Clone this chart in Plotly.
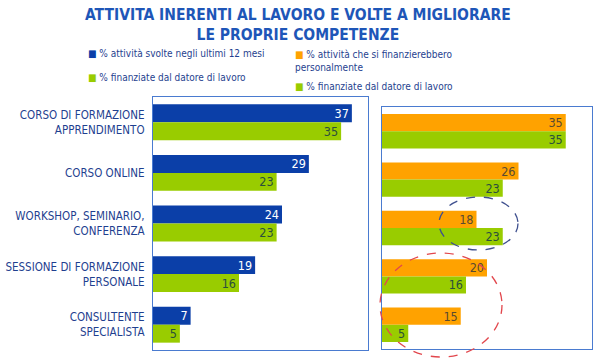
import plotly.graph_objects as go

categories = ["CORSO DI FORMAZIONE<br>APPRENDIMENTO", "CORSO ONLINE", "WORKSHOP, SEMINARIO,<br>CONFERENZA",
              "SESSIONE DI FORMAZIONE<br>PERSONALE", "CONSULTENTE<br>SPECIALISTA"]
svolte = [37, 29, 24, 19, 7]
finanziate_left = [35, 23, 23, 16, 5]
autofinanziate = [35, 26, 18, 20, 15]
finanziate_right = [35, 23, 23, 16, 5]

BLUE = "#0B3FA8"
GREEN = "#99CC00"
ORANGE = "#FFA200"
TXT = "#1F3F8F"
BORDER = "#4A7BD0"
FONT = "DejaVu Sans Condensed, Liberation Sans Narrow, Arial Narrow, Liberation Sans, sans-serif"

fig = go.Figure()

def bar(x, color, tcolor, xa, ya, name):
    return go.Bar(y=categories, x=x, orientation="h", marker=dict(color=color, line=dict(width=0)),
                  text=[str(v) for v in x], textposition="inside", insidetextanchor="end",
                  textangle=0, constraintext="none",
                  textfont=dict(color=tcolor, size=12.5, family=FONT), xaxis=xa, yaxis=ya,
                  name=name, showlegend=False, cliponaxis=False)

fig.add_trace(bar(svolte, BLUE, "white", "x", "y", "svolte"))
fig.add_trace(bar(finanziate_left, GREEN, "#2B4F3C", "x", "y", "finanziate"))
fig.add_trace(bar(autofinanziate, ORANGE, "#5A4A30", "x2", "y2", "autofinanziate"))
fig.add_trace(bar(finanziate_right, GREEN, "#2B4F3C", "x2", "y2", "finanziate2"))

axline = dict(showline=True, linecolor=BORDER, linewidth=1.3, mirror=True, showgrid=False, zeroline=False,
              automargin=False)

fig.update_layout(
    width=600, height=360, margin=dict(l=0, r=0, t=0, b=0),
    paper_bgcolor="white", plot_bgcolor="white",
    barmode="group", bargap=0.29, bargroupgap=0,
    font=dict(family=FONT, color=TXT, size=12),
    xaxis=dict(domain=[153/600, 368/600], range=[0, 40], showticklabels=False, ticks="", anchor="y", **axline),
    yaxis=dict(domain=[1-350/360, 1-97/360], autorange="reversed", anchor="x", ticks="",
               tickfont=dict(size=11.5, color=TXT, family=FONT), ticklabelstandoff=5, **axline),
    xaxis2=dict(domain=[382/600, 592/600], range=[0, 40], showticklabels=False, ticks="", anchor="y2", **axline),
    yaxis2=dict(domain=[1-349/360, 1-107/360], autorange="reversed", anchor="x2", showticklabels=False,
                ticks="", **axline),
)

# Title
fig.add_annotation(text="<b>ATTIVITA INERENTI AL LAVORO E VOLTE A MIGLIORARE<br>LE PROPRIE COMPETENZE</b>",
                   xref="paper", yref="paper", x=0.497, y=1-4/360, xanchor="center", yanchor="top",
                   showarrow=False, align="center", font=dict(size=15.5, color="#1E56B8", family=FONT))

def sq(c):
    return f"<span style='color:{c}'>■</span>"

legend_items = [
    (86, 53, sq(BLUE) + " % attività svolte negli ultimi 12 mesi"),
    (86, 77, sq(GREEN) + " % finanziate dal datore di lavoro"),
    (293, 61, sq(ORANGE) + " % attività che si finanzierebbero<br>personalmente"),
    (293, 86, sq(GREEN) + " % finanziate dal datore di lavoro"),
]
for px, py, t in legend_items:
    fig.add_annotation(text=t, xref="paper", yref="paper", x=px/600, y=1-py/360, xanchor="left",
                       yanchor="middle", showarrow=False, align="left",
                       font=dict(size=10, color=TXT, family=FONT))

# Highlight ellipses
fig.add_shape(type="circle", xref="paper", yref="paper", x0=439/600, x1=518/600, y0=1-250/360, y1=1-197/360,
              line=dict(color="#3E4F8E", width=1.3, dash="dash"))
fig.add_shape(type="circle", xref="paper", yref="paper", x0=380/600, x1=502/600, y0=1-357/360, y1=1-253/360,
              line=dict(color="#E2474D", width=1.3, dash="dash"))

fig.write_html("out.html", config={"displayModeBar": False},
               post_script="document.body.style.margin='0';document.body.style.overflow='hidden';")
